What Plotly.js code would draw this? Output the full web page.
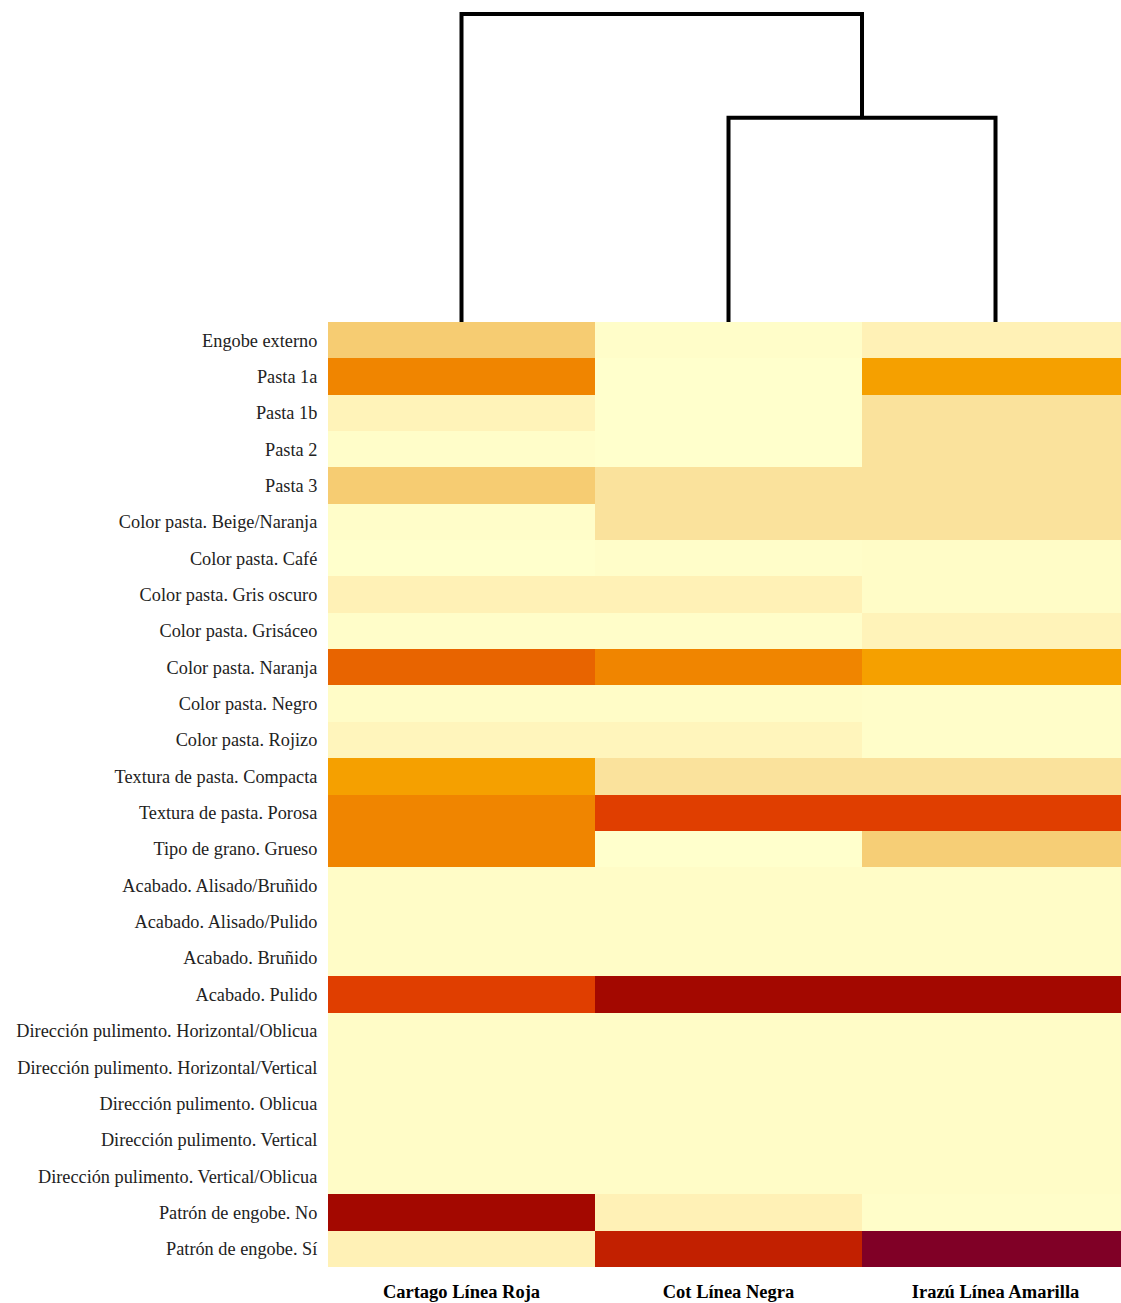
<!DOCTYPE html>
<html>
<head>
<meta charset="utf-8">
<script src="https://cdn.plot.ly/plotly-3.0.1.min.js"></script>
<style>html,body{margin:0;padding:0;background:#fff;}#chart{width:1121px;height:1303px;}</style>
</head>
<body>
<div id="chart"></div>
<script>
// Column (group) names
const groups = ["Cartago Línea Roja", "Cot Línea Negra", "Irazú Línea Amarilla"];

// Row (attribute) names, top to bottom
const attributes = [
  "Engobe externo",
  "Pasta 1a",
  "Pasta 1b",
  "Pasta 2",
  "Pasta 3",
  "Color pasta. Beige/Naranja",
  "Color pasta. Café",
  "Color pasta. Gris oscuro",
  "Color pasta. Grisáceo",
  "Color pasta. Naranja",
  "Color pasta. Negro",
  "Color pasta. Rojizo",
  "Textura de pasta. Compacta",
  "Textura de pasta. Porosa",
  "Tipo de grano. Grueso",
  "Acabado. Alisado/Bruñido",
  "Acabado. Alisado/Pulido",
  "Acabado. Bruñido",
  "Acabado. Pulido",
  "Dirección pulimento. Horizontal/Oblicua",
  "Dirección pulimento. Horizontal/Vertical",
  "Dirección pulimento. Oblicua",
  "Dirección pulimento. Vertical",
  "Dirección pulimento. Vertical/Oblicua",
  "Patrón de engobe. No",
  "Patrón de engobe. Sí"
];

// Estimated proportions per group
const cartago = [0.27,0.55,0.07,0.01,0.27,0.01,0.00,0.08,0.01,0.60,0.02,0.06,0.45,0.55,0.55,0.02,0.02,0.02,0.68,0.02,0.02,0.02,0.02,0.02,0.88,0.08];
const cot     = [0.01,0.00,0.00,0.00,0.17,0.17,0.01,0.08,0.01,0.55,0.02,0.06,0.17,0.68,0.00,0.02,0.02,0.02,0.88,0.02,0.02,0.02,0.02,0.02,0.08,0.78];
const irazu   = [0.08,0.45,0.17,0.17,0.17,0.17,0.02,0.02,0.07,0.45,0.01,0.01,0.17,0.68,0.26,0.02,0.02,0.02,0.88,0.02,0.02,0.02,0.02,0.02,0.01,1.00];

// Dendrogram merge heights
const mergeLow = 6.3;   // Cot + Irazú
const mergeTop = 9.5;   // Cartago + (Cot, Irazú)
const dendroMax = 9.93;

const z = attributes.map((_, i) => [cartago[i], cot[i], irazu[i]]);

const colorscale = [
  [0.00, '#FFFFCC'],
  [0.08, '#FFF1B6'],
  [0.17, '#FAE29C'],
  [0.27, '#F6CC72'],
  [0.45, '#F5A000'],
  [0.55, '#F08500'],
  [0.60, '#E86400'],
  [0.68, '#E03E00'],
  [0.78, '#C22000'],
  [0.88, '#A30800'],
  [1.00, '#800026']
];

const heat = {
  type: 'heatmap',
  z: z,
  x: [0, 1, 2],
  y: attributes,
  colorscale: colorscale,
  zmin: 0, zmax: 1,
  showscale: false,
  hoverongaps: false,
  xaxis: 'x', yaxis: 'y'
};

const lineStyle = {color: '#000', width: 4};
const dendro = [
  {x: [1, 1, 2, 2], y: [0, mergeLow, mergeLow, 0]},
  {x: [0, 0, 1.5, 1.5], y: [0, mergeTop, mergeTop, mergeLow]}
].map(d => ({
  type: 'scatter', mode: 'lines', x: d.x, y: d.y,
  line: lineStyle, hoverinfo: 'skip', showlegend: false,
  xaxis: 'x', yaxis: 'y2'
}));

const plotH = 1303 - 36;
const heatFrac = (1267 - 322) / plotH;

const layout = {
  width: 1121, height: 1303,
  margin: {l: 328, r: 0, t: 0, b: 36, pad: 0},
  paper_bgcolor: '#fff', plot_bgcolor: '#fff',
  font: {family: 'Liberation Serif, Times New Roman, serif', color: '#1a1a1a'},
  showlegend: false,
  xaxis: {
    range: [-0.5, 2.47], tickvals: [0, 1, 2],
    ticktext: groups.map(g => '<b>' + g + '</b>'),
    tickfont: {size: 18.5, color: '#000', family: 'Liberation Serif, serif'},
    ticks: 'outside', ticklen: 8, tickcolor: 'rgba(0,0,0,0)',
    showgrid: false, zeroline: false, showline: false, fixedrange: true
  },
  yaxis: {
    domain: [0, heatFrac], autorange: 'reversed', type: 'category',
    tickfont: {size: 18.3, color: '#222'},
    ticks: 'outside', ticklen: 6, tickcolor: 'rgba(0,0,0,0)',
    showgrid: false, zeroline: false, showline: false, fixedrange: true
  },
  yaxis2: {
    domain: [heatFrac, 1], range: [0, dendroMax],
    showticklabels: false, showgrid: false, zeroline: false, showline: false,
    ticks: '', fixedrange: true
  }
};

Plotly.newPlot('chart', [heat, ...dendro], layout, {displayModeBar: false, staticPlot: true});
</script>
</body>
</html>
